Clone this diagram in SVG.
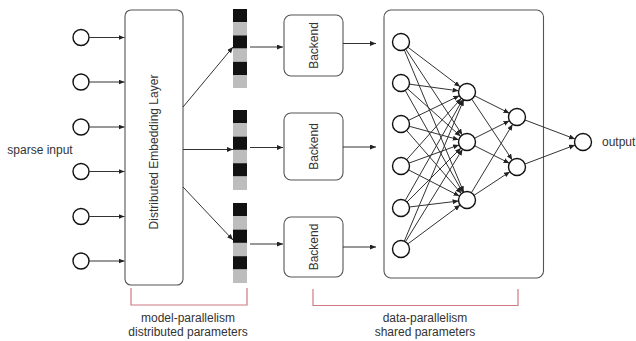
<svg xmlns="http://www.w3.org/2000/svg" width="636" height="341" viewBox="0 0 636 341">
<style>
  text { font-family: "Liberation Sans", Arial, sans-serif; font-size: 12px; fill: #333; }
  .node { fill: #fff; stroke: #111; stroke-width: 1.4; }
  .box { fill: #fff; stroke: #555; stroke-width: 1.1; }
  .edge { stroke: #333; stroke-width: 1; fill: none; marker-end: url(#arr); }
  .blk { fill: #111; }
  .gry { fill: #bdbdbd; }
  .brk { fill: none; stroke: #d07a82; stroke-width: 1.2; }
</style>
<defs>
  <marker id="arr" markerUnits="userSpaceOnUse" markerWidth="7" markerHeight="6" refX="6" refY="2.5" orient="auto">
    <path d="M0,0 L6,2.5 L0,5 z" fill="#222"/>
  </marker>
</defs>
<rect width="636" height="341" fill="#fff"/>

<text x="40" y="154" text-anchor="middle">sparse input</text>

<g id="inputs">
  <circle class="node" cx="81" cy="37.5" r="8"/>
  <circle class="node" cx="81" cy="82" r="8"/>
  <circle class="node" cx="81" cy="127" r="8"/>
  <circle class="node" cx="81" cy="171.5" r="8"/>
  <circle class="node" cx="81" cy="216.5" r="8"/>
  <circle class="node" cx="81" cy="261" r="8"/>
</g>

<g id="embedding">
  <rect class="box" x="125" y="10" width="58" height="275" rx="6"/>
  <text transform="translate(158,152) rotate(-90)" text-anchor="middle" font-size="11.5">Distributed Embedding Layer</text>
</g>

<g id="vectors">
  <g id="vec1">
    <rect class="blk" x="233" y="9" width="14" height="13.2"/>
    <rect class="gry" x="233" y="22.2" width="14" height="13.2"/>
    <rect class="blk" x="233" y="35.4" width="14" height="13.2"/>
    <rect class="gry" x="233" y="48.6" width="14" height="13.2"/>
    <rect class="blk" x="233" y="61.8" width="14" height="13.2"/>
    <rect class="gry" x="233" y="75" width="14" height="13"/>
  </g>
  <g id="vec2">
    <rect class="blk" x="233" y="110" width="14" height="13.3"/>
    <rect class="gry" x="233" y="123.3" width="14" height="13.3"/>
    <rect class="blk" x="233" y="136.6" width="14" height="13.3"/>
    <rect class="gry" x="233" y="149.9" width="14" height="13.3"/>
    <rect class="blk" x="233" y="163.2" width="14" height="13.3"/>
    <rect class="gry" x="233" y="176.5" width="14" height="13.5"/>
  </g>
  <g id="vec3">
    <rect class="blk" x="233" y="203" width="14" height="13.3"/>
    <rect class="gry" x="233" y="216.3" width="14" height="13.3"/>
    <rect class="blk" x="233" y="229.6" width="14" height="13.3"/>
    <rect class="gry" x="233" y="242.9" width="14" height="13.3"/>
    <rect class="blk" x="233" y="256.2" width="14" height="13.3"/>
    <rect class="gry" x="233" y="269.5" width="14" height="13.5"/>
  </g>
</g>

<g id="backend1">
  <rect class="box" x="284" y="15" width="59" height="61" rx="7"/>
  <text transform="translate(317.5,45.5) rotate(-90)" text-anchor="middle">Backend</text>
</g>
<g id="backend2">
  <rect class="box" x="284" y="113" width="59" height="67" rx="7"/>
  <text transform="translate(317.5,146.5) rotate(-90)" text-anchor="middle">Backend</text>
</g>
<g id="backend3">
  <rect class="box" x="284" y="217" width="59" height="60" rx="7"/>
  <text transform="translate(317.5,247) rotate(-90)" text-anchor="middle">Backend</text>
</g>

<g id="network">
  <rect class="box" x="384" y="10" width="159.5" height="268" rx="7"/>
</g>

<g id="connectors">
  <line class="edge" x1="89" y1="37.5" x2="124.5" y2="37.5"/>
  <line class="edge" x1="89" y1="82" x2="124.5" y2="82"/>
  <line class="edge" x1="89" y1="127" x2="124.5" y2="127"/>
  <line class="edge" x1="89" y1="171.5" x2="124.5" y2="171.5"/>
  <line class="edge" x1="89" y1="216.5" x2="124.5" y2="216.5"/>
  <line class="edge" x1="89" y1="261" x2="124.5" y2="261"/>

  <line class="edge" x1="183" y1="107" x2="233" y2="47"/>
  <line class="edge" x1="183" y1="149.5" x2="233" y2="149.5"/>
  <line class="edge" x1="183" y1="187" x2="233" y2="240"/>

  <line class="edge" x1="250" y1="47" x2="283" y2="47"/>
  <line class="edge" x1="250" y1="147.5" x2="283" y2="147.5"/>
  <line class="edge" x1="250" y1="244" x2="283" y2="244"/>

  <line class="edge" x1="343" y1="43.5" x2="376" y2="43.5"/>
  <line class="edge" x1="343" y1="147" x2="376" y2="147"/>
  <line class="edge" x1="343" y1="247" x2="376" y2="247"/>

  <line class="edge" x1="407.78" y1="47.13" x2="460.22" y2="86.87"/>
  <line class="edge" x1="405.68" y1="49.09" x2="462.32" y2="134.91"/>
  <line class="edge" x1="404.28" y1="49.84" x2="463.72" y2="192.16"/>
  <line class="edge" x1="409.42" y1="84.15" x2="458.58" y2="90.85"/>
  <line class="edge" x1="407.34" y1="88.67" x2="460.66" y2="136.33"/>
  <line class="edge" x1="405.18" y1="90.40" x2="462.82" y2="192.60"/>
  <line class="edge" x1="408.65" y1="120.29" x2="459.35" y2="95.71"/>
  <line class="edge" x1="409.20" y1="126.24" x2="458.80" y2="139.76"/>
  <line class="edge" x1="406.57" y1="130.42" x2="461.43" y2="193.58"/>
  <line class="edge" x1="406.66" y1="159.66" x2="461.34" y2="98.34"/>
  <line class="edge" x1="408.99" y1="163.10" x2="459.01" y2="144.90"/>
  <line class="edge" x1="408.56" y1="169.89" x2="459.44" y2="196.11"/>
  <line class="edge" x1="405.20" y1="200.61" x2="462.80" y2="99.39"/>
  <line class="edge" x1="407.01" y1="201.99" x2="460.99" y2="148.01"/>
  <line class="edge" x1="409.44" y1="206.98" x2="458.56" y2="201.02"/>
  <line class="edge" x1="404.29" y1="241.16" x2="463.71" y2="99.84"/>
  <line class="edge" x1="405.46" y1="241.77" x2="462.54" y2="149.23"/>
  <line class="edge" x1="407.82" y1="243.93" x2="460.18" y2="205.07"/>

  <line class="edge" x1="474.60" y1="95.80" x2="509.40" y2="113.20"/>
  <line class="edge" x1="471.71" y1="99.07" x2="512.29" y2="159.93"/>
  <line class="edge" x1="474.60" y1="138.20" x2="509.40" y2="120.80"/>
  <line class="edge" x1="474.60" y1="145.80" x2="509.40" y2="163.20"/>
  <line class="edge" x1="471.39" y1="192.72" x2="512.61" y2="124.28"/>
  <line class="edge" x1="474.09" y1="195.32" x2="509.91" y2="171.68"/>

  <line class="edge" x1="524.95" y1="120.01" x2="575.05" y2="138.99"/>
  <line class="edge" x1="524.95" y1="163.99" x2="575.05" y2="145.01"/>
</g>

<g id="nn-input">
  <circle class="node" cx="401" cy="42" r="8.5"/>
  <circle class="node" cx="401" cy="83" r="8.5"/>
  <circle class="node" cx="401" cy="124" r="8.5"/>
  <circle class="node" cx="401" cy="166" r="8.5"/>
  <circle class="node" cx="401" cy="208" r="8.5"/>
  <circle class="node" cx="401" cy="249" r="8.5"/>
</g>
<g id="nn-hidden1">
  <circle class="node" cx="467" cy="92" r="8.5"/>
  <circle class="node" cx="467" cy="142" r="8.5"/>
  <circle class="node" cx="467" cy="200" r="8.5"/>
</g>
<g id="nn-hidden2">
  <circle class="node" cx="517" cy="117" r="8.5"/>
  <circle class="node" cx="517" cy="167" r="8.5"/>
</g>
<g id="output">
  <circle class="node" cx="583" cy="142" r="8.5"/>
  <text x="602" y="146">output</text>
</g>

<g id="brackets">
  <path class="brk" d="M131,288 V305 H247 V288"/>
  <path class="brk" d="M313,289 V305.5 H518 V289"/>
  <text x="188" y="322" text-anchor="middle">model-parallelism</text>
  <text x="188" y="336" text-anchor="middle">distributed parameters</text>
  <text x="425" y="322" text-anchor="middle">data-parallelism</text>
  <text x="425" y="336" text-anchor="middle">shared parameters</text>
</g>
</svg>
